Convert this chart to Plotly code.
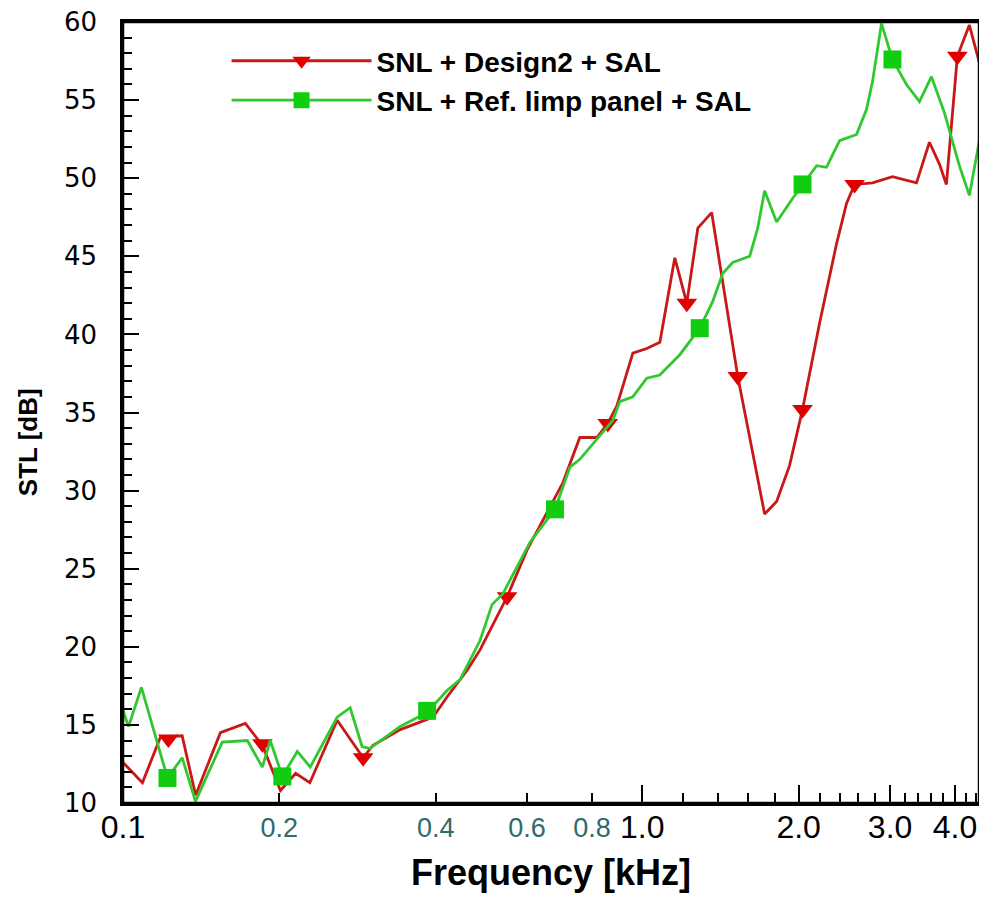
import math
import plotly.graph_objects as go

# ---- data (frequency in kHz, STL in dB) ----
freq_red = [0.100, 0.109, 0.118, 0.130, 0.138, 0.154, 0.172, 0.1855, 0.201, 0.215,
            0.229, 0.2585, 0.290, 0.303, 0.342, 0.3955, 0.421, 0.460, 0.487, 0.549,
            0.600, 0.655, 0.703, 0.758, 0.8175, 0.858, 0.893, 0.959, 1.020, 1.081,
            1.155, 1.218, 1.279, 1.360, 1.441, 1.527, 1.610, 1.720, 1.814, 1.921,
            2.035, 2.194, 2.366, 2.474, 2.563, 2.776, 3.032, 3.373, 3.572, 3.734,
            3.851, 4.043, 4.264, 4.457]
stl_red = [12.6, 11.3, 14.2, 14.3, 10.5, 14.5, 15.1, 13.7, 10.8, 11.9,
           11.3, 15.3, 12.9, 13.7, 14.7, 15.5, 16.8, 18.5, 19.8, 23.2,
           26.2, 28.6, 30.5, 33.4, 33.4, 34.3, 35.4, 38.8, 39.1, 39.5,
           44.9, 42.0, 46.8, 47.8, 42.5, 37.3, 33.4, 28.5, 29.3, 31.6,
           35.2, 40.7, 45.8, 48.4, 49.6, 49.7, 50.1, 49.7, 52.3, 50.9,
           49.6, 57.8, 59.8, 57.4]

freq_green = [0.100, 0.1025, 0.1085, 0.1218, 0.130, 0.1379, 0.1553, 0.1736, 0.1855, 0.1921,
              0.2027, 0.2166, 0.2294, 0.2585, 0.2738, 0.2888, 0.2992, 0.3418, 0.3852, 0.4207,
              0.4457, 0.487, 0.5136, 0.539, 0.6078, 0.679, 0.7256, 0.758, 0.8776, 0.905,
              0.9588, 1.020, 1.0806, 1.181, 1.290, 1.366, 1.428, 1.493, 1.610, 1.668,
              1.720, 1.814, 1.947, 2.035, 2.166, 2.263, 2.398, 2.586, 2.702, 2.776,
              2.888, 3.032, 3.226, 3.418, 3.604, 3.817, 4.079, 4.264, 4.398, 4.457]
stl_green = [15.9, 14.9, 17.4, 11.6, 12.9, 10.1, 13.9, 14.0, 12.3, 14.0,
             11.7, 13.3, 12.3, 15.5, 16.1, 13.6, 13.5, 14.9, 15.8, 17.2,
             17.9, 20.4, 22.7, 23.4, 26.7, 28.8, 31.5, 32.0, 34.5, 35.7,
             36.0, 37.2, 37.4, 38.7, 40.4, 42.1, 43.9, 44.6, 45.0, 46.8,
             49.2, 47.2, 48.7, 49.6, 50.8, 50.7, 52.4, 52.8, 54.4, 56.2,
             59.9, 57.6, 56.0, 54.9, 56.5, 54.2, 50.8, 48.9, 51.3, 52.4]

mk_freq_red = [0.1223, 0.1855, 0.290, 0.549, 0.858, 1.218, 1.527, 2.035, 2.563, 4.043]
mk_stl_red = [14.1, 13.8, 12.9, 23.2, 34.3, 42.0, 37.3, 35.2, 49.6, 57.8]

mk_freq_green = [0.1218, 0.2027, 0.3852, 0.679, 1.290, 2.035, 3.032]
mk_stl_green = [11.6, 11.7, 15.9, 28.8, 40.4, 49.6, 57.6]

series_names = ["SNL + Design2 + SAL", "SNL + Ref. limp panel + SAL"]

x_major_vals = [0.1, 1.0, 2.0, 3.0, 4.0]
x_major_text = ["0.1", "1.0", "2.0", "3.0", "4.0"]
x_sub_vals = [0.2, 0.4, 0.6, 0.8]
x_sub_text = ["0.2", "0.4", "0.6", "0.8"]
x_minor_vals = [1.2, 1.4, 1.6, 1.8, 2.2, 2.4, 2.6, 2.8, 3.2, 3.4, 3.6, 3.8, 4.2, 4.4]
y_tick_vals = [10, 15, 20, 25, 30, 35, 40, 45, 50, 55, 60]

x_lo, x_hi = 0.1, 4.45
y_lo, y_hi = 10, 60

RED_LINE = "#C81818"
RED_MK = "#E00000"
GREEN_LINE = "#30C830"
GREEN_MK = "#12CC12"

fig = go.Figure()

# red series
fig.add_trace(go.Scatter(x=freq_red, y=stl_red, mode="lines", showlegend=False,
                         line=dict(color=RED_LINE, width=2.8), hoverinfo="skip"))
fig.add_trace(go.Scatter(x=mk_freq_red, y=mk_stl_red, mode="markers", showlegend=False,
                         marker=dict(symbol="triangle-down", size=18, color=RED_MK)))
# green series
fig.add_trace(go.Scatter(x=freq_green, y=stl_green, mode="lines", showlegend=False,
                         line=dict(color=GREEN_LINE, width=2.8), hoverinfo="skip"))
fig.add_trace(go.Scatter(x=mk_freq_green, y=mk_stl_green, mode="markers", showlegend=False,
                         marker=dict(symbol="square", size=18, color=GREEN_MK)))
# legend entries
fig.add_trace(go.Scatter(x=[None], y=[None], mode="lines+markers", name=series_names[0],
                         line=dict(color=RED_LINE, width=2.8),
                         marker=dict(symbol="triangle-down", size=18, color=RED_MK)))
fig.add_trace(go.Scatter(x=[None], y=[None], mode="lines+markers", name=series_names[1],
                         line=dict(color=GREEN_LINE, width=2.8),
                         marker=dict(symbol="square", size=18, color=GREEN_MK)))
# empty trace that activates the secondary tick-label axis
fig.add_trace(go.Scatter(x=[None], y=[None], xaxis="x2", yaxis="y", mode="lines",
                         showlegend=False, hoverinfo="skip"))

axis_font = "Liberation Sans, Arial, sans-serif"
narrow_font = "Liberation Sans Narrow, Arial Narrow, Liberation Sans, sans-serif"

# the page body has an 8px margin, so the figure is 8px smaller than the window
fig.update_layout(
    width=979, height=889,
    margin=dict(l=115, r=8, t=14, b=94),
    plot_bgcolor="white", paper_bgcolor="white",
    font=dict(family=axis_font, color="black"),
    showlegend=True,
    legend=dict(x=0.121, y=0.982, xanchor="left", yanchor="top",
                bgcolor="rgba(0,0,0,0)", borderwidth=0,
                font=dict(family=axis_font, size=28, color="black", weight="bold"),
                tracegroupgap=0, itemwidth=140),
    xaxis=dict(type="log", range=[math.log10(x_lo), math.log10(x_hi)], automargin=False,
               tickmode="array", tickvals=x_major_vals, ticktext=x_major_text,
               ticks="inside", ticklen=18, tickwidth=2, tickcolor="black",
               tickfont=dict(family=narrow_font, size=32, color="black"),
               ticklabelstandoff=-6, ticklabeloverflow="allow",
               showline=True, linewidth=2.5, linecolor="black", mirror=True,
               showgrid=False, zeroline=False,
               minor=dict(tickmode="array", tickvals=x_minor_vals, ticks="inside",
                          ticklen=10, tickwidth=2, tickcolor="black", showgrid=False),
               title=dict(text="Frequency [kHz]", standoff=16,
                          font=dict(family=axis_font, size=36, color="black", weight="bold"))),
    xaxis2=dict(type="log", range=[math.log10(x_lo), math.log10(x_hi)], automargin=False,
                overlaying="x", anchor="y", side="bottom",
                tickmode="array", tickvals=x_sub_vals, ticktext=x_sub_text,
                ticks="inside", ticklen=10, tickwidth=2, tickcolor="black",
                tickfont=dict(family=narrow_font, size=27, color="#2F6B6B"),
                ticklabelstandoff=6, ticklabeloverflow="allow",
                showline=False, showgrid=False, zeroline=False),
    yaxis=dict(range=[y_lo, y_hi], tickmode="array", tickvals=y_tick_vals, automargin=False,
               ticks="inside", ticklen=16, tickwidth=2, tickcolor="black",
               tickfont=dict(family="DejaVu Sans, sans-serif", size=26, color="black"),
               ticklabelstandoff=18, ticklabeloverflow="allow",
               showline=True, linewidth=2.5, linecolor="black", mirror=True,
               showgrid=False, zeroline=False,
               minor=dict(dtick=1, ticks="inside", ticklen=9, tickwidth=2,
                          tickcolor="black", showgrid=False)),
    shapes=[dict(type="rect", xref="paper", yref="paper", x0=0, x1=1, y0=0, y1=1,
                 line=dict(color="black", width=2.5), fillcolor="rgba(0,0,0,0)",
                 layer="above")],
    annotations=[dict(text="STL [dB]", textangle=-90, xref="paper", yref="paper",
                      x=-0.111, y=0.462, xanchor="center", yanchor="middle",
                      showarrow=False,
                      font=dict(family=axis_font, size=26, color="black", weight="bold"))],
)

fig.write_html("out.html")
